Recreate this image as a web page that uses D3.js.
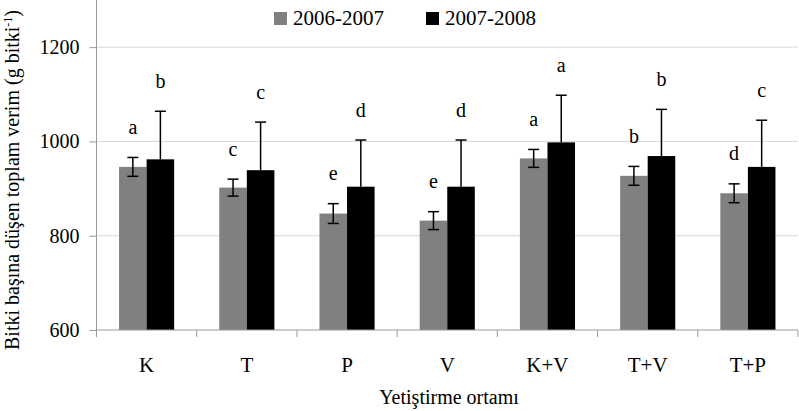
<!DOCTYPE html>
<html><head><meta charset="utf-8">
<script src="https://cdn.jsdelivr.net/npm/d3@7"></script>
<style>body{margin:0;background:#fff;} text{font-family:"Liberation Serif","Times New Roman",serif;}</style>
</head><body><svg id="c" width="799" height="411"></svg>
<script>
const categories = ["K","T","P","V","K+V","T+V","T+P"];
const seriesNames = ["2006-2007","2007-2008"];
const values2006 = [946, 902, 847, 832, 964, 927, 890];
const errors2006 = [20, 18, 21, 19, 19, 20, 20];
const values2007 = [962, 939, 904, 904, 998, 969, 946];
const errors2007 = [102, 102, 99, 99, 100, 99, 99];
const letters2006 = ["a","c","e","e","a","b","d"];
const letters2007 = ["b","c","d","d","a","b","c"];
const yTicks = [600, 800, 1000, 1200];
const colors = ["#808080", "#000000"];
const FF = '"Liberation Serif","Times New Roman",serif';

const svg = d3.select("#c");
const L = 96.5, R = 798, T = 0, B = 330;
const y = d3.scaleLinear().domain([600, 1300]).range([B, T]);
const xb = d3.scaleBand().domain(categories).range([L, R]).padding(0);
const x0 = d3.scaleBand().domain(categories).range([L, R]).paddingInner(0.45).paddingOuter(0.225);
const x1 = d3.scaleBand().domain(seriesNames).range([0, x0.bandwidth()]);

// gridlines
svg.append("g").selectAll("line").data(yTicks.filter(d => d > 600)).join("line")
  .attr("x1", L).attr("x2", R).attr("y1", d => y(d)).attr("y2", d => y(d))
  .attr("stroke", "#d9d9d9").attr("stroke-width", 1);

// y axis
const yAxis = svg.append("g").attr("transform", `translate(${L},0)`)
  .call(d3.axisLeft(y).tickValues(yTicks).tickSize(7).tickPadding(10).tickFormat(d3.format("d")));
yAxis.attr("font-family", FF).attr("font-size", 20);
yAxis.select(".domain").attr("stroke", "#999").attr("d", `M0,${T}V${B}`);
yAxis.selectAll(".tick line").attr("stroke", "#999");
yAxis.selectAll("text").attr("font-size", 20).attr("fill", "#000").attr("font-family", FF);

const series = [
  {name: seriesNames[0], vals: values2006, errs: errors2006, letters: letters2006, both: true},
  {name: seriesNames[1], vals: values2007, errs: errors2007, letters: letters2007, both: false}
];

series.forEach((s, si) => {
  const g = svg.append("g");
  const cx = i => x0(categories[i]) + x1(s.name) + x1.bandwidth() / 2;
  g.selectAll("rect").data(s.vals).join("rect")
    .attr("x", (d, i) => x0(categories[i]) + x1(s.name))
    .attr("width", x1.bandwidth())
    .attr("y", d => y(d)).attr("height", d => y(600) - y(d))
    .attr("fill", colors[si]);
  const eg = svg.append("g").attr("stroke", "#000").attr("stroke-width", 1.5);
  s.vals.forEach((v, i) => {
    const top = y(v + s.errs[i]);
    const bot = s.both ? y(v - s.errs[i]) : y(v);
    eg.append("line").attr("x1", cx(i)).attr("x2", cx(i)).attr("y1", top).attr("y2", bot);
    eg.append("line").attr("x1", cx(i) - 5.5).attr("x2", cx(i) + 5.5).attr("y1", top).attr("y2", top);
    if (s.both) eg.append("line").attr("x1", cx(i) - 5.5).attr("x2", cx(i) + 5.5).attr("y1", bot).attr("y2", bot);
  });
  svg.append("g").selectAll("text").data(s.letters).join("text")
    .attr("x", (d, i) => cx(i))
    .attr("y", (d, i) => y(s.vals[i] + s.errs[i]) - 23.5)
    .attr("text-anchor", "middle").attr("font-size", 20).attr("font-family", FF).attr("fill", "#000")
    .text(d => d);
});

// x axis
svg.append("line").attr("x1", L).attr("x2", R).attr("y1", B).attr("y2", B).attr("stroke", "#999");
const bounds = categories.map(c => xb(c)).concat([R]);
svg.append("g").selectAll("line").data(bounds).join("line")
  .attr("x1", d => d).attr("x2", d => d).attr("y1", B).attr("y2", B + 7).attr("stroke", "#999");
svg.append("g").selectAll("text").data(categories).join("text")
  .attr("x", d => xb(d) + xb.bandwidth() / 2).attr("y", 372)
  .attr("text-anchor", "middle").attr("font-size", 21).attr("font-family", FF).attr("fill", "#000").text(d => d);

// axis titles
svg.append("text").attr("x", 449).attr("y", 404).attr("text-anchor", "middle")
  .attr("font-size", 20).attr("font-family", FF).attr("fill", "#000").text("Yetiştirme ortamı");
const yt = svg.append("text").attr("transform", "translate(19,180) rotate(-90)")
  .attr("text-anchor", "middle").attr("font-size", 20).attr("font-family", FF).attr("fill", "#000");
yt.append("tspan").text("Bitki başına düşen toplam verim (g bitki");
yt.append("tspan").attr("font-size", 12).attr("dy", -7).text("-1");
yt.append("tspan").attr("dy", 7).text(")");

// legend
const legX = [274, 426];
seriesNames.forEach((n, i) => {
  svg.append("rect").attr("x", legX[i]).attr("y", 12).attr("width", 13).attr("height", 13).attr("fill", colors[i]);
  svg.append("text").attr("x", legX[i] + 19).attr("y", 25).attr("font-size", 21).attr("font-family", FF).attr("fill", "#000").text(n);
});
</script></body></html>
